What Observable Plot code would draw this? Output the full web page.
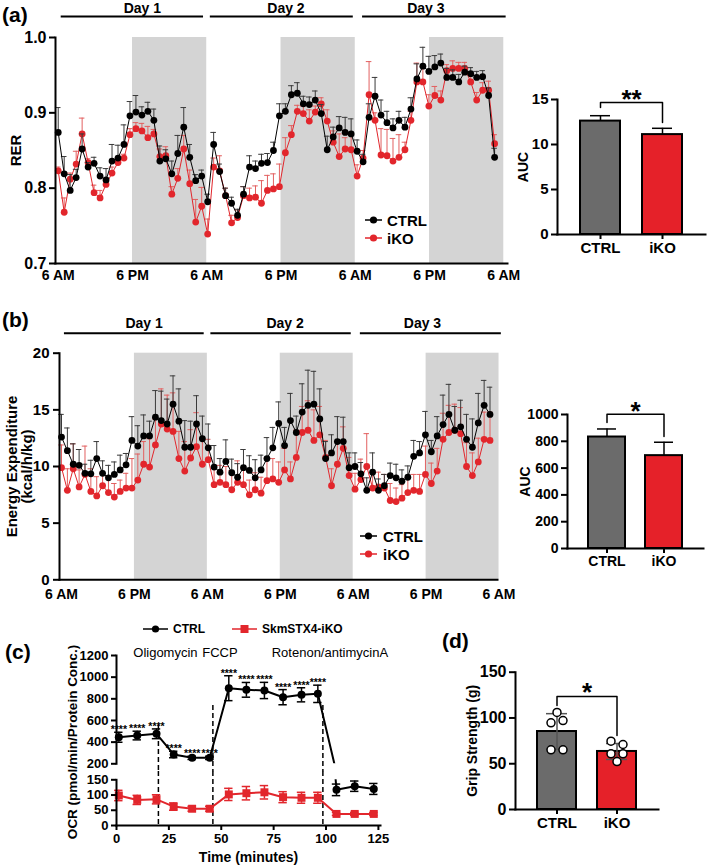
<!DOCTYPE html>
<html>
<head>
<meta charset="utf-8">
<script src="https://cdn.jsdelivr.net/npm/d3@7"></script>
<script src="https://cdn.jsdelivr.net/npm/@observablehq/plot@0.6"></script>
<style>
html,body{margin:0;padding:0;background:#fff;}
#root{position:relative;width:709px;height:867px;overflow:hidden;background:#fff;font-family:"Liberation Sans",Arial,Helvetica,sans-serif;color:#000;}
#root > *{position:absolute;}
.plabel{font-size:21px;font-weight:bold;line-height:1;}
.leg{display:flex;align-items:center;font-weight:bold;white-space:nowrap;}
.vtitle{font-weight:bold;white-space:nowrap;transform:translate(-50%,-50%) rotate(-90deg);}
</style>
</head>
<body>
<div id="root"></div>
<script>
// ---------------- DATA ----------------
const sampleH = 0.966; // hours between successive calorimetry readings
const tickHours = [0, 12, 24, 36, 48, 60, 72];
const tickLabels = ["6 AM", "6 PM", "6 AM", "6 PM", "6 AM", "6 PM", "6 AM"];
const nightStart = [12, 36, 60];
const nightEnd = [24, 48, 72];
const dayNames = ["Day 1", "Day 2", "Day 3"];
const dayStart = [0.4, 24.5, 49.1];
const dayEnd = [23.4, 47.6, 72.3];
const dayLabelAt = [13.6, 36.8, 59.4];

// (a) RER
const rerCtrl = [0.874,0.819,0.797,0.814,0.852,0.828,0.833,0.816,0.811,0.836,
  0.840,0.858,0.896,0.901,0.897,0.902,0.890,0.836,0.839,0.819,
  0.846,0.881,0.841,0.810,0.816,0.782,0.858,0.822,0.790,0.780,
  0.764,0.792,0.828,0.826,0.833,0.834,0.850,0.896,0.902,0.924,
  0.926,0.912,0.911,0.917,0.899,0.851,0.868,0.880,0.874,0.872,
  0.849,0.835,0.894,0.922,0.897,0.887,0.880,0.890,0.881,0.905,
  0.945,0.962,0.955,0.961,0.966,0.947,0.947,0.941,0.954,0.952,
  0.947,0.948,0.923,0.841];
const rerCtrlErr = [0.033,0.023,0.021,0.011,0.020,0.006,0.008,0.011,0.015,0.022,
  0.017,0.026,0.019,0.022,0.011,0.012,0.015,0.020,0.012,0.017,
  0.024,0.026,0.017,0.008,0.008,0.010,0.016,0.010,0.010,0.008,
  0.008,0.010,0.015,0.010,0.012,0.012,0.011,0.016,0.010,0.012,
  0.014,0.010,0.010,0.012,0.012,0.018,0.013,0.015,0.020,0.020,
  0.015,0.010,0.018,0.025,0.020,0.015,0.012,0.012,0.013,0.015,
  0.020,0.025,0.020,0.015,0.012,0.012,0.010,0.010,0.008,0.008,
  0.008,0.008,0.010,0.012];
const rerKO = [0.823,0.768,0.812,0.832,0.872,0.834,0.794,0.787,0.805,0.820,
  0.834,0.840,0.871,0.879,0.876,0.867,0.872,0.842,0.843,0.792,
  0.813,0.852,0.806,0.755,0.776,0.739,0.828,0.823,0.790,0.754,
  0.761,0.790,0.787,0.788,0.780,0.797,0.799,0.802,0.847,0.871,
  0.902,0.899,0.889,0.901,0.912,0.889,0.861,0.842,0.852,0.851,
  0.816,0.840,0.924,0.890,0.844,0.843,0.836,0.841,0.851,0.890,
  0.941,0.941,0.909,0.923,0.917,0.956,0.959,0.959,0.959,0.941,
  0.917,0.930,0.930,0.859];
const rerKOErr = [0.005,0.019,0.008,0.017,0.021,0.005,0.010,0.010,0.006,0.008,
  0.006,0.005,0.008,0.008,0.010,0.015,0.006,0.010,0.012,0.010,
  0.013,0.018,0.018,0.030,0.025,0.020,0.012,0.020,0.010,0.010,
  0.010,0.012,0.013,0.015,0.030,0.020,0.020,0.030,0.020,0.012,
  0.008,0.010,0.015,0.008,0.008,0.015,0.015,0.030,0.015,0.020,
  0.015,0.010,0.044,0.010,0.035,0.035,0.030,0.030,0.010,0.012,
  0.025,0.020,0.015,0.012,0.012,0.008,0.010,0.008,0.008,0.010,
  0.010,0.010,0.012,0.012];
const rerTicks = [0.7, 0.8, 0.9, 1.0];

// (b) Energy expenditure
const eeCtrl = [12.6,11.4,10.2,10.1,9.4,9.35,10.7,9.4,9.0,9.3,
  9.7,10.15,12.3,11.8,12.7,12.7,14.35,14.05,13.75,15.5,
  14.0,11.7,11.7,13.75,12.45,11.65,9.95,9.5,10.45,9.45,
  9.05,9.9,9.65,9.0,9.7,10.7,11.65,13.8,11.85,14.05,
  13.0,14.8,15.4,15.5,14.2,10.7,11.2,12.2,12.2,9.9,
  10.0,9.35,7.9,9.5,7.9,8.3,9.2,9.0,8.7,9.05,
  10.9,11.2,12.8,11.3,12.7,13.7,14.6,13.2,13.5,12.4,
  11.7,13.85,15.4,14.6];
const eeCtrlErr = [2.0,2.0,1.8,1.4,0.8,1.2,1.5,1.1,1.1,1.1,
  1.3,1.0,2.1,1.8,1.85,1.3,2.35,2.6,2.2,2.5,
  2.85,2.35,2.3,2.5,2.0,2.1,1.9,1.2,1.9,1.2,
  1.2,1.6,1.3,1.6,1.3,1.85,1.8,1.9,1.6,2.4,
  1.45,2.5,3.1,2.9,2.65,1.5,1.6,2.2,2.15,1.3,
  1.2,1.0,1.1,1.7,1.0,1.0,1.1,1.2,1.0,1.0,
  1.4,1.0,2.06,1.0,1.7,2.6,2.65,2.1,2.35,2.2,
  2.5,2.6,2.2,2.4];
const eeKO = [9.9,7.9,9.8,8.2,9.3,7.8,7.4,8.3,7.7,7.3,
  7.8,8.1,8.1,8.8,10.2,9.95,11.9,13.75,13.3,13.1,
  10.7,9.6,10.75,11.75,10.2,10.6,8.4,8.6,8.4,7.95,
  8.6,8.4,7.5,7.95,7.65,8.75,8.9,8.6,9.7,8.9,
  10.8,13.0,13.2,12.3,12.8,10.8,8.3,10.2,11.6,9.2,
  8.0,8.85,10.0,8.1,8.2,8.1,7.0,6.9,7.2,7.7,
  7.9,7.8,9.3,8.5,9.6,12.4,13.0,13.2,12.9,10.0,
  9.2,10.4,12.4,12.3];
const eeKOErr = [2.0,1.9,2.2,1.5,2.5,2.0,1.7,1.2,1.4,1.2,
  1.0,1.3,2.6,2.3,2.0,2.5,2.3,3.1,3.0,3.4,
  2.4,2.6,2.5,3.0,2.3,1.8,1.5,1.5,1.6,1.7,
  1.9,1.5,1.3,1.5,1.4,2.0,1.8,1.8,1.9,1.5,
  2.4,2.3,2.6,2.7,2.5,1.5,1.5,2.0,1.9,1.6,
  1.4,1.8,2.9,1.4,1.3,1.2,1.5,1.2,1.2,1.3,
  1.4,1.5,2.5,1.8,2.0,2.3,2.4,2.3,2.3,2.1,
  2.0,2.1,2.4,2.5];
const eeTicks = [0, 5, 10, 15, 20];

// AUC bars
const groups = ["CTRL", "iKO"];
const aucRER = [12.6, 11.1];
const aucRERErr = [0.6, 0.7];
const aucRERBracket = [14.1, 14.67, 12.44];
const aucRERStar = {text: "**", y: 15.8};
const aucEE = [832, 693];
const aucEEErr = [60, 100];
const aucEEBracket = [940, 1002, 836];
const aucEEStar = {text: "*", y: 1075};

// (c) OCR
const ocrTime = [1.1, 9.9, 19.1, 27.3, 36.1, 44.5, 53.6, 62.0, 70.6, 79.5, 88.3, 96.1, 105.0, 113.7, 122.8];
const ocrCtrl = [445, 461, 477, 286, 255, 255, 898, 883, 877, 815, 837, 846, 117, 129, 120];
const ocrCtrlErr = [46, 40, 45, 30, 15, 15, 115, 68, 75, 70, 65, 80, 19, 17, 18];
const ocrKO = [98.5, 84, 86, 62, 55, 55, 102, 106, 109, 93, 91, 91, 38, 38, 38];
const ocrKOErr = [17, 15, 15, 12, 8, 8, 20, 22, 22, 18, 18, 18, 5, 5, 5];
const ocrSig = ["****","****","****","****","****","****","****","****","****","****","****","****","","",""];
const injTime = [20, 46, 98.5];
const injName = ["Oligomycin", "FCCP", "Rotenon/antimycinA"];
const injLineTop = [554, 738, 738];

// (d) Grip strength
const gripMean = [85.2, 63.4];
const gripSD = [19.5, 8.7];
const gripCtrlPts = [106, 94.7, 97.2, 65.2, 65.2];
const gripKOPts = [74.6, 71.0, 60.8, 60.8, 52.4];
const gripCtrlSlot = ["C", "L", "R", "L", "R"];
const gripKOSlot = ["L", "R", "L", "R", "C"];
const gripBracket = [113.6, 123.5, 80.8];
const gripStar = {text: "*", y: 135.5};

// ---------------- STYLE ----------------
const FONT = "Liberation Sans, Arial, Helvetica, sans-serif";
const RED = "#e2262c", RED_ERR = "#e26060", BLK_ERR = "#3a3a3a";
const GRAY_BAR = "#6b6b6b", RED_BAR = "#e52129", NIGHT = "#d4d4d4";
const baseStyle = {fontFamily: FONT, fontWeight: "bold", background: "none", overflow: "visible", color: "black"};
const root = document.getElementById("root");
function place(el, left, top) { el.style.left = left + "px"; el.style.top = top + "px"; root.appendChild(el); return el; }
function html(s) { const d = document.createElement("div"); d.innerHTML = s; return d.firstElementChild; }
const vTitle = (text, dx, fontSize, extra = {}) =>
  Plot.text([text], {frameAnchor: "left", textAnchor: "middle", lineAnchor: "middle", rotate: -90, dx, fontSize, ...extra});

// ---------------- TIME-COURSE CHARTS (a, b) ----------------
const nights = nightStart.map((s, i) => ({start: s, end: nightEnd[i]}));
const days = dayNames.map((n, i) => ({label: n, start: dayStart[i], end: dayEnd[i], at: dayLabelAt[i]}));

function timeChart(o) {
  const rows = (vals, errs) => vals.map((v, i) => ({t: i * sampleH, v, e: errs[i]}));
  const ko = rows(o.ko, o.koErr), ct = rows(o.ctrl, o.ctrlErr);
  const cap = 0.45;
  const series = (data, col, ecol) => [
    Plot.ruleX(data, {x: "t", y1: "v", y2: d => d.v + d.e, stroke: ecol, strokeWidth: 1}),
    Plot.ruleY(data, {y: d => d.v + d.e, x1: d => d.t - cap, x2: d => d.t + cap, stroke: ecol, strokeWidth: 1}),
    Plot.line(data, {x: "t", y: "v", stroke: col, strokeWidth: 1}),
    Plot.dot(data, {x: "t", y: "v", r: 3.4, fill: col, stroke: "none"})
  ];
  const top = o.yDomain[1];
  return Plot.plot({
    width: o.width, height: o.height,
    marginLeft: o.ml, marginRight: o.mr, marginTop: o.mt, marginBottom: o.mb,
    x: {domain: o.xDomain}, y: {domain: o.yDomain},
    style: baseStyle,
    marks: [
      Plot.rect(nights, {x1: "start", x2: "end", y1: o.yDomain[0], y2: top, fill: NIGHT}),
      Plot.link(days, {x1: "start", x2: "end", y1: top, y2: top, dy: o.dayLineDy, stroke: "black", strokeWidth: 2}),
      Plot.text(days, {x: "at", y: top, text: "label", dy: o.dayTextDy, fontSize: 14}),
      ...series(ko, RED, RED_ERR),
      ...series(ct, "black", BLK_ERR),
      Plot.axisY({ticks: o.yTicks, tickFormat: o.yFormat, tickSize: 6, tickPadding: o.yPad, fontSize: o.yFont, strokeWidth: 2, label: null}),
      Plot.axisX({ticks: tickHours, tickFormat: d => tickLabels[tickHours.indexOf(d)], tickSize: 0, tickPadding: o.xPad, fontSize: 14, label: null}),
      Plot.frame({anchor: "left", strokeWidth: 2}),
      Plot.frame({anchor: "bottom", strokeWidth: 2}),
      vTitle(o.yTitle, o.titleDx, 15, {lineHeight: 1.05})
    ]
  });
}

// ---------------- BAR CHARTS ----------------
function barChart(o) {
  const rows = groups.map((g, i) => ({g, v: o.means[i], e: o.errs[i]}));
  const br = [{g: groups[0], v: o.bracket[0]}, {g: groups[0], v: o.bracket[1]},
              {g: groups[1], v: o.bracket[1]}, {g: groups[1], v: o.bracket[2]}];
  const ec = o.errColor || "black";
  const marks = [
    Plot.barY(rows, {x: "g", y: "v", fill: "g", stroke: "black", strokeWidth: 2}),
    Plot.ruleX(rows, {x: "g", y1: o.both ? d => d.v - d.e : "v", y2: d => d.v + d.e, stroke: ec, strokeWidth: 1.5}),
    Plot.tickY(rows, {x: "g", y: d => d.v + d.e, inset: o.capInset, stroke: ec, strokeWidth: 1.5}),
    ...(o.both ? [Plot.tickY(rows, {x: "g", y: d => d.v - d.e, inset: o.capInset, stroke: ec, strokeWidth: 1.5})] : []),
    ...(o.extra || []),
    Plot.line(br, {x: "g", y: "v", stroke: "black", strokeWidth: 1.5}),
    Plot.text([o.star], {frameAnchor: "middle", y: "y", text: "text", fontSize: 26, dy: 7}),
    Plot.axisY({ticks: o.yTicks, tickFormat: d3.format("d"), tickSize: 6, tickPadding: 3, fontSize: o.yFont, strokeWidth: 2, label: null}),
    Plot.axisX({tickSize: 5, tickPadding: 3, fontSize: o.xFont, strokeWidth: 2, label: null}),
    Plot.frame({anchor: "left", strokeWidth: 2}),
    Plot.frame({anchor: "bottom", strokeWidth: 2}),
    vTitle(o.yTitle, o.titleDx, o.titleFont)
  ];
  return Plot.plot({
    width: o.width, height: o.height,
    marginLeft: o.ml, marginRight: o.mr, marginTop: o.mt, marginBottom: o.mb,
    x: {domain: groups, padding: 0.35}, y: {domain: o.yDomain},
    color: {domain: groups, range: [GRAY_BAR, RED_BAR]},
    style: baseStyle,
    marks
  });
}

// (a)
place(timeChart({
  ctrl: rerCtrl, ctrlErr: rerCtrlErr, ko: rerKO, koErr: rerKOErr,
  width: 520, height: 292, ml: 55, mr: 13, mt: 37, mb: 29,
  xDomain: [-0.44, 72.6], yDomain: [0.7, 1.0], yTicks: rerTicks, yFormat: d3.format(".1f"), yFont: 16, yPad: 3,
  dayLineDy: -21, dayTextDy: -29, xPad: 7, yTitle: "RER", titleDx: -40
}), 0, 0);
place(barChart({
  means: aucRER, errs: aucRERErr, bracket: aucRERBracket, star: aucRERStar,
  width: 204, height: 202, ml: 52, mr: 4, mt: 37, mb: 30,
  yDomain: [0, 15], yTicks: [0, 5, 10, 15], yFont: 15, xFont: 15, capInset: 10,
  yTitle: "AUC", titleDx: -34, titleFont: 14
}), 505, 62);

// (b)
place(timeChart({
  ctrl: eeCtrl, ctrlErr: eeCtrlErr, ko: eeKO, koErr: eeKOErr,
  width: 520, height: 305, ml: 59, mr: 23, mt: 57.7, mb: 20.7,
  xDomain: [-0.33, 71.75], yDomain: [0, 20], yTicks: eeTicks, yFormat: d3.format("d"), yFont: 15, yPad: 4,
  dayLineDy: -20, dayTextDy: -30, xPad: 9, yTitle: "Energy Expenditure\n(kcal/h/kg)", titleDx: -40
}), 0, 295);
place(barChart({
  means: aucEE, errs: aucEEErr, bracket: aucEEBracket, star: aucEEStar,
  width: 204, height: 200, ml: 62, mr: 6, mt: 34, mb: 32,
  yDomain: [0, 1000], yTicks: [0, 200, 400, 600, 800, 1000], yFont: 14, xFont: 14, capInset: 9,
  yTitle: "AUC", titleDx: -42, titleFont: 14
}), 505, 380);

// (c) OCR with broken y axis
const ctrlRows = ocrTime.map((t, i) => ({t, v: ocrCtrl[i], e: ocrCtrlErr[i], s: ocrSig[i]}));
const koRows = ocrTime.map((t, i) => ({t, v: ocrKO[i], e: ocrKOErr[i]}));
const injections = injTime.map((t, i) => ({t, name: injName[i], top: injLineTop[i]}));
const upperCtrl = ctrlRows.filter(d => d.v >= 200), lowerCtrl = ctrlRows.filter(d => d.v < 200);
const capT = 2;
const errMarks = (data, col) => [
  Plot.ruleX(data, {x: "t", y1: d => d.v - d.e, y2: d => d.v + d.e, stroke: col, strokeWidth: 1.5}),
  Plot.ruleY(data, {y: d => d.v + d.e, x1: d => d.t - capT, x2: d => d.t + capT, stroke: col, strokeWidth: 1.5}),
  Plot.ruleY(data, {y: d => d.v - d.e, x1: d => d.t - capT, x2: d => d.t + capT, stroke: col, strokeWidth: 1.5})
];
const dash = {stroke: "black", strokeWidth: 1.5, strokeDasharray: "5,3"};
place(Plot.plot({
  width: 400, height: 141, marginLeft: 116, marginRight: 20, marginTop: 25, marginBottom: 7.7,
  x: {domain: [0, 126], axis: null}, y: {domain: [200, 1200]},
  style: baseStyle,
  marks: [
    Plot.ruleX(injections, {x: "t", y1: "top", y2: 200, insetBottom: -8, ...dash}),
    Plot.text(injections, {x: "t", frameAnchor: "top", lineAnchor: "middle", text: "name", dx: 7, dy: -3, fontWeight: "normal", fontSize: 13}),
    Plot.line(ctrlRows, {x: "t", y: "v", stroke: "black", strokeWidth: 2, clip: true}),
    ...errMarks(upperCtrl, "black"),
    Plot.dot(upperCtrl, {x: "t", y: "v", r: 4, fill: "black"}),
    Plot.text(upperCtrl, {x: "t", y: d => d.v + d.e, text: "s", lineAnchor: "bottom", dy: 1, fontSize: 10.5}),
    Plot.axisY({ticks: [200, 400, 600, 800, 1000, 1200], tickFormat: d3.format("d"), tickSize: 5, tickPadding: 3, fontSize: 13, strokeWidth: 2, label: null}),
    Plot.frame({anchor: "left", strokeWidth: 2})
  ]
}), 0, 630);
place(Plot.plot({
  width: 400, height: 96, marginLeft: 116, marginRight: 20, marginTop: 8.3, marginBottom: 42,
  x: {domain: [0, 126]}, y: {domain: [0, 150]},
  style: baseStyle,
  marks: [
    Plot.ruleX(injections, {x: "t", y1: 150, y2: 0, insetTop: -8.3, ...dash}),
    ...errMarks(koRows, RED),
    Plot.line(koRows, {x: "t", y: "v", stroke: RED, strokeWidth: 2}),
    Plot.dot(koRows, {x: "t", y: "v", r: 4.5, symbol: "square", fill: RED}),
    Plot.line(ctrlRows, {x: "t", y: "v", stroke: "black", strokeWidth: 2, clip: true}),
    ...errMarks(lowerCtrl, "black"),
    Plot.dot(lowerCtrl, {x: "t", y: "v", r: 4, fill: "black"}),
    Plot.axisY({ticks: [0, 50, 100, 150], tickSize: 5, tickPadding: 3, fontSize: 13, strokeWidth: 2, label: null}),
    Plot.axisX({ticks: [0, 25, 50, 75, 100, 125], tickSize: 5, tickPadding: 3, fontSize: 13, strokeWidth: 2, label: null}),
    Plot.frame({anchor: "left", strokeWidth: 2}),
    Plot.frame({anchor: "bottom", strokeWidth: 2}),
    Plot.text(["Time (minutes)"], {frameAnchor: "bottom", textAnchor: "middle", lineAnchor: "middle", dy: 32, fontSize: 14})
  ]
}), 0, 771);

// (d) grip strength
const gripPts = [
  ...gripCtrlPts.map((v, i) => ({g: groups[0], v, slot: gripCtrlSlot[i]})),
  ...gripKOPts.map((v, i) => ({g: groups[1], v, slot: gripKOSlot[i]}))
];
const slotDx = {L: -6, C: 0, R: 6};
const gripDots = ["L", "C", "R"].map(s =>
  Plot.dot(gripPts.filter(d => d.slot === s), {x: "g", y: "v", r: 4, fill: "white", stroke: "black", strokeWidth: 1.5, dx: slotDx[s]}));
place(barChart({
  means: gripMean, errs: gripSD, bracket: gripBracket, star: gripStar, both: true, errColor: "#555",
  width: 230, height: 200, ml: 75, mr: 12, mt: 21.7, mb: 41,
  yDomain: [0, 150], yTicks: [0, 50, 100, 150], yFont: 16, xFont: 15, capInset: 9,
  yTitle: "Grip Strength (g)", titleDx: -43.3, titleFont: 14,
  extra: gripDots
}), 440, 650);

// ---------------- HTML TEXT: panel letters, legends, titles ----------------
place(html('<div class="plabel">(a)</div>'), 2, 4);
place(html('<div class="plabel">(b)</div>'), 2, 309);
place(html('<div class="plabel">(c)</div>'), 5, 641);
place(html('<div class="plabel">(d)</div>'), 442, 630);

function lineDotSwatch(color, w, shape) {
  const mid = w / 2;
  const mk = shape === "square"
    ? `<rect x="${mid - 4}" y="5" width="8" height="8" fill="${color}"/>`
    : `<circle cx="${mid}" cy="9" r="3.6" fill="${color}"/>`;
  return `<svg width="${w}" height="18" style="display:block"><line x1="0" x2="${w}" y1="9" y2="9" stroke="${color}" stroke-width="1.5"/>${mk}</svg>`;
}
function legendRow(color, label, w, fs, gap, shape) {
  return `<div class="leg" style="font-size:${fs}px;height:18px;">${lineDotSwatch(color, w, shape)}<span style="margin-left:${gap}px">${label}</span></div>`;
}
place(html(`<div>${legendRow("black", "CTRL", 17, 15, 5)}${legendRow(RED, "iKO", 17, 15, 5)}</div>`), 365, 211);
place(html(`<div>${legendRow("black", "CTRL", 17, 15, 6)}${legendRow(RED, "iKO", 17, 15, 6)}</div>`), 360, 527);
place(html(legendRow("black", "CTRL", 25, 12, 5)), 143, 620);
place(html(legendRow(RED, "SkmSTX4-iKO", 25, 12, 5, "square")), 232, 620);

const ocrTitle = html('<div class="vtitle" style="font-size:13.5px;">OCR (pmol/min/Protein Conc.)</div>');
place(ocrTitle, 72, 742);
</script>
</body>
</html>
